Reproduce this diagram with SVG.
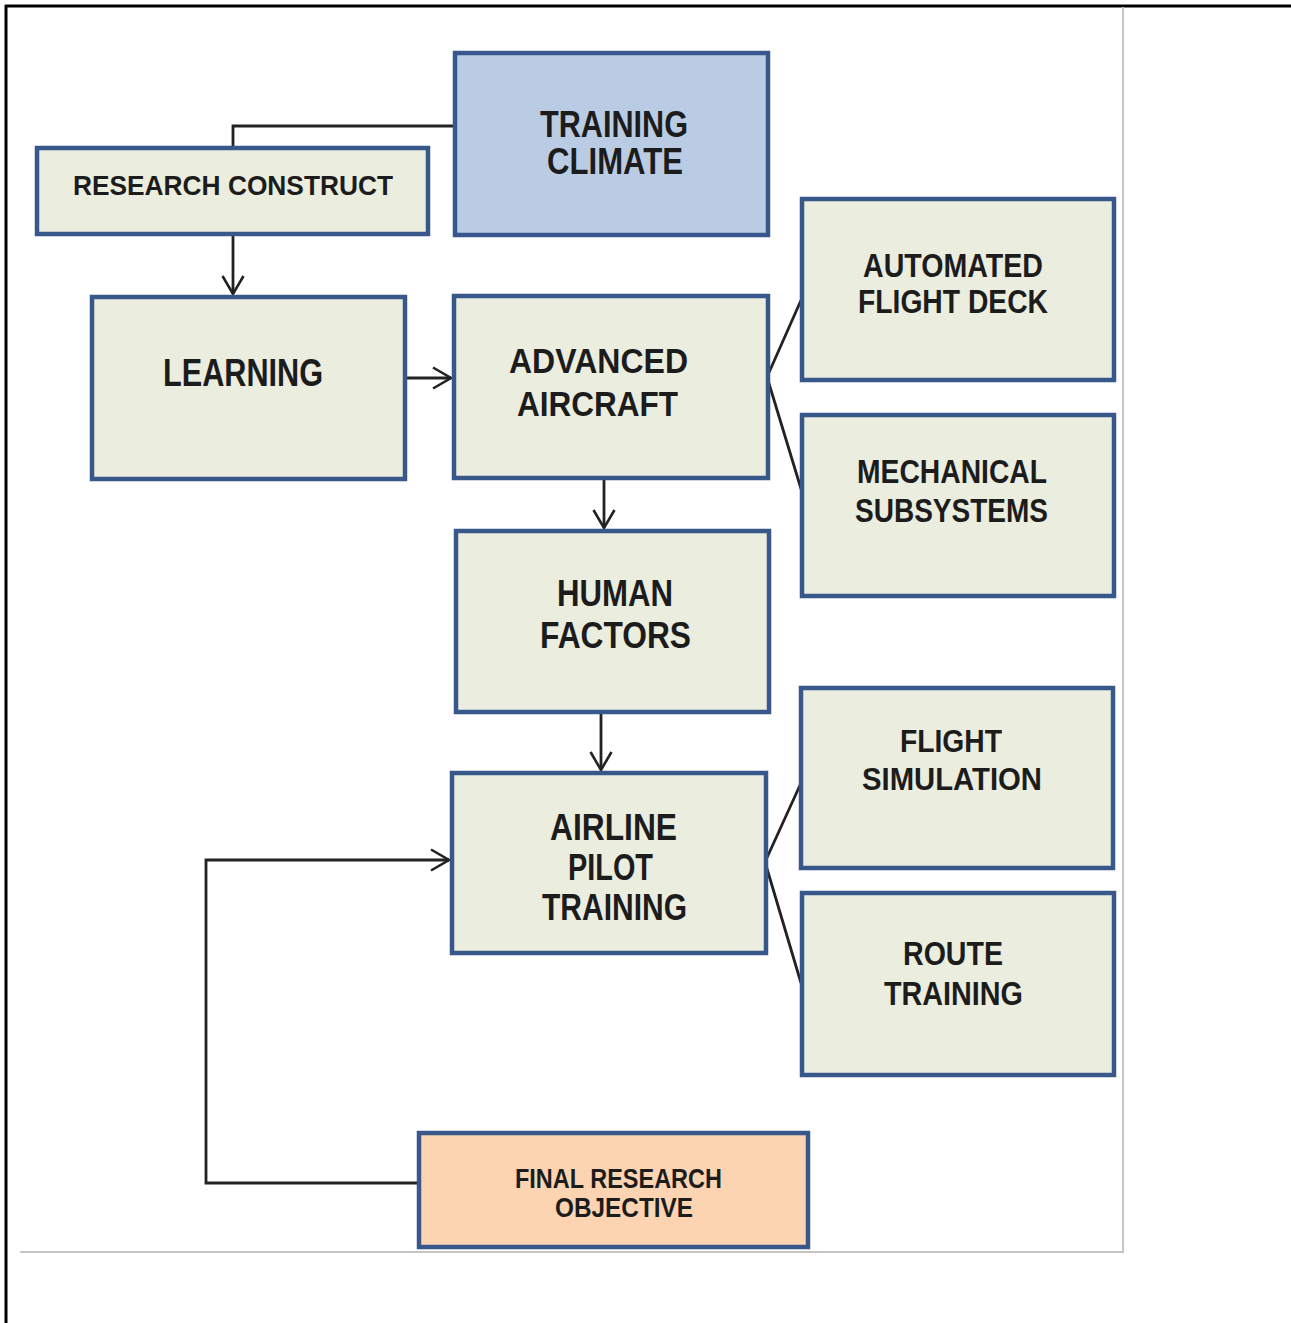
<svg xmlns="http://www.w3.org/2000/svg" width="1291" height="1323" viewBox="0 0 1291 1323">
<style>
.box{fill:#ebeddf;stroke:#38578a;stroke-width:4.5}
.blue{fill:#b9cce4}
.orange{fill:#fcd4b2}
.t{font-family:"Liberation Sans",Arial,sans-serif;font-weight:bold;fill:#1c1c1c;text-anchor:middle}
.c{fill:none;stroke:#222;stroke-width:2.8}
</style>
<defs>
<marker id="arr" markerUnits="userSpaceOnUse" markerWidth="24" markerHeight="26" refX="19" refY="12" orient="auto">
<path d="M1,1.5 L19,12 L1,22.5" fill="none" stroke="#222" stroke-width="2.6"/>
</marker>
</defs>
<rect x="0" y="0" width="1291" height="1323" fill="#fff"/>
<g id="frame">
<line x1="6" y1="5" x2="6" y2="1323" stroke="#000" stroke-width="3"/>
<line x1="5" y1="6" x2="1291" y2="6" stroke="#000" stroke-width="3"/>
<line x1="1123" y1="7" x2="1123" y2="1253" stroke="#c6c6c6" stroke-width="2"/>
<line x1="20" y1="1252" x2="1124" y2="1252" stroke="#c6c6c6" stroke-width="2"/>
</g>
<g id="connectors">
<polyline class="c" points="454,126 233,126 233,148"/>
<line class="c" x1="233" y1="235" x2="233" y2="294" marker-end="url(#arr)"/>
<line class="c" x1="405" y1="378" x2="451" y2="378" marker-end="url(#arr)"/>
<line class="c" x1="604" y1="478" x2="604" y2="528" marker-end="url(#arr)"/>
<line class="c" x1="601" y1="712" x2="601" y2="770" marker-end="url(#arr)"/>
<polyline class="c" points="418,1183 206,1183 206,860 449,860" marker-end="url(#arr)"/>
<polyline class="c" points="802,298 767,377 802,492"/>
<polyline class="c" points="801,783 765,862 801,983"/>
</g>
<g id="research-construct">
<rect class="box" x="37" y="148" width="391" height="86"/>
<text class="t" x="233" y="195" font-size="28" textLength="320" lengthAdjust="spacingAndGlyphs">RESEARCH CONSTRUCT</text>
</g>
<g id="training-climate">
<rect class="box blue" x="455" y="53" width="313" height="182"/>
<text class="t" x="614" y="137" font-size="37" textLength="148" lengthAdjust="spacingAndGlyphs">TRAINING</text>
<text class="t" x="615" y="174" font-size="37" textLength="136" lengthAdjust="spacingAndGlyphs">CLIMATE</text>
</g>
<g id="learning">
<rect class="box" x="92" y="297" width="313" height="182"/>
<text class="t" x="243" y="386" font-size="38" textLength="160" lengthAdjust="spacingAndGlyphs">LEARNING</text>
</g>
<g id="advanced-aircraft">
<rect class="box" x="454" y="296" width="314" height="182"/>
<text class="t" x="598.5" y="373" font-size="35" textLength="179" lengthAdjust="spacingAndGlyphs">ADVANCED</text>
<text class="t" x="597.5" y="416" font-size="35" textLength="161" lengthAdjust="spacingAndGlyphs">AIRCRAFT</text>
</g>
<g id="automated-flight-deck">
<rect class="box" x="802" y="199" width="312" height="181"/>
<text class="t" x="953" y="277" font-size="34" textLength="180" lengthAdjust="spacingAndGlyphs">AUTOMATED</text>
<text class="t" x="953" y="313" font-size="34" textLength="190" lengthAdjust="spacingAndGlyphs">FLIGHT DECK</text>
</g>
<g id="mechanical-subsystems">
<rect class="box" x="802" y="415" width="312" height="181"/>
<text class="t" x="952" y="483" font-size="33" textLength="190" lengthAdjust="spacingAndGlyphs">MECHANICAL</text>
<text class="t" x="951.5" y="522" font-size="33" textLength="193" lengthAdjust="spacingAndGlyphs">SUBSYSTEMS</text>
</g>
<g id="human-factors">
<rect class="box" x="456" y="531" width="313" height="181"/>
<text class="t" x="615" y="606" font-size="37" textLength="116" lengthAdjust="spacingAndGlyphs">HUMAN</text>
<text class="t" x="615.5" y="648" font-size="37" textLength="151" lengthAdjust="spacingAndGlyphs">FACTORS</text>
</g>
<g id="airline-pilot-training">
<rect class="box" x="452" y="773" width="314" height="180"/>
<text class="t" x="613.5" y="840" font-size="36" textLength="127" lengthAdjust="spacingAndGlyphs">AIRLINE</text>
<text class="t" x="610.5" y="880" font-size="36" textLength="85" lengthAdjust="spacingAndGlyphs">PILOT</text>
<text class="t" x="614.5" y="920" font-size="36" textLength="145" lengthAdjust="spacingAndGlyphs">TRAINING</text>
</g>
<g id="flight-simulation">
<rect class="box" x="801" y="688" width="312" height="180"/>
<text class="t" x="951" y="752" font-size="32" textLength="102" lengthAdjust="spacingAndGlyphs">FLIGHT</text>
<text class="t" x="952" y="790" font-size="32" textLength="180" lengthAdjust="spacingAndGlyphs">SIMULATION</text>
</g>
<g id="route-training">
<rect class="box" x="802" y="893" width="312" height="182"/>
<text class="t" x="953" y="965" font-size="33" textLength="100" lengthAdjust="spacingAndGlyphs">ROUTE</text>
<text class="t" x="953.5" y="1005" font-size="33" textLength="139" lengthAdjust="spacingAndGlyphs">TRAINING</text>
</g>
<g id="final-research-objective">
<rect class="box orange" x="419" y="1133" width="389" height="114"/>
<text class="t" x="618.5" y="1188" font-size="27" textLength="207" lengthAdjust="spacingAndGlyphs">FINAL RESEARCH</text>
<text class="t" x="624" y="1217" font-size="27" textLength="138" lengthAdjust="spacingAndGlyphs">OBJECTIVE</text>
</g>
</svg>
